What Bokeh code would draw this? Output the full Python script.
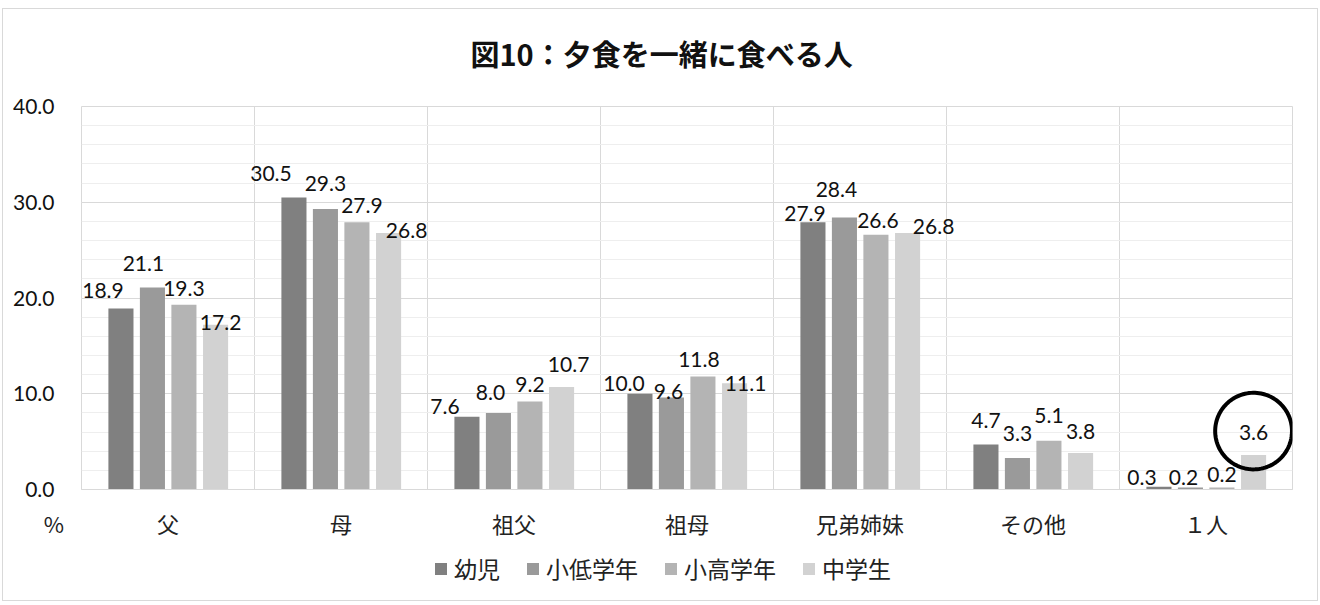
import numpy as np
from bokeh.plotting import figure
from bokeh.layouts import column
from bokeh.models import (Range1d, FixedTicker, SingleIntervalTicker, NumeralTickFormatter,
                          Legend, LegendItem, PolyAnnotation, ColumnDataSource)
from bokeh.core.properties import value
from bokeh.embed import file_html
from bokeh.resources import INLINE

# ---------------- data ----------------
title_text = "図10：夕食を一緒に食べる人"
categories = ["父", "母", "祖父", "祖母", "兄弟姉妹", "その他", "１人"]
series_names = ["幼児", "小低学年", "小高学年", "中学生"]
youji = [18.9, 30.5, 7.6, 10.0, 27.9, 4.7, 0.3]
shou_tei = [21.1, 29.3, 8.0, 9.6, 28.4, 3.3, 0.2]
shou_kou = [19.3, 27.9, 9.2, 11.8, 26.6, 5.1, 0.2]
chuugaku = [17.2, 26.8, 10.7, 11.1, 26.8, 3.8, 3.6]
y_ticks = [0, 10, 20, 30, 40]
unit_label = "%"
highlight = ("１人", "中学生")

series_values = [youji, shou_tei, shou_kou, chuugaku]

# ---------------- style ----------------
colors = ["#808080", "#9a9a9a", "#b4b4b4", "#d2d2d2"]
bar_offsets = [-0.272, -0.090, 0.092, 0.275]
bar_width = 0.145
# pixel nudges (dx, dy) of each data label, per series then category
label_nudges = [
    [(-18, -18), (-23, -24), (-22, -10), (-16, -10), (-8, -9), (0, -24), (-17, -9)],
    [(-9, -24), (0, -25), (-8, -20), (-3, -6), (-8, -28), (0, -24), (-7, -10)],
    [(0, -16), (5, -17), (0, -17), (-4, -17), (2, -14), (0, -25), (0, -13)],
    [(5, -2), (18, -2), (7, -23), (11, 0), (26, -6), (0, -22), (0, -23)],
]
num_font = value("Lato")
jp_font = "Noto Sans CJK JP"
grid_color = "#d9d9d9"
line = "linear-gradient(#d9d9d9,#d9d9d9)"
pad = "\u3000\u3000\u2002"  # spaces: push the unit label left of the frame edge

n = len(categories)
p = figure(width=1320, height=545, output_backend="svg", toolbar_location=None,
           x_range=Range1d(0, n), y_range=Range1d(y_ticks[0], y_ticks[-1]),
           min_border_left=81, min_border_right=28, min_border_top=105, min_border_bottom=56)
p.background_fill_color = "white"
p.border_fill_color = None
p.outline_line_color = grid_color

for k, (name, vals) in enumerate(zip(series_names, series_values)):
    xs = [i + 0.5 + bar_offsets[k] for i in range(n)]
    src = ColumnDataSource(dict(
        x=xs, top=vals, text=[f"{v:.1f}" for v in vals],
        dx=[d[0] for d in label_nudges[k]], dy=[d[1] for d in label_nudges[k]]))
    p.vbar(x="x", top="top", width=bar_width, bottom=0, source=src,
           fill_color=colors[k], line_color=None)
    p.text(x="x", y="top", text="text", x_offset="dx", y_offset="dy", source=src,
           text_align="center", text_baseline="middle", text_font=num_font,
           text_font_size="21px", text_color="#111111")

# x axis: category labels, plus the unit label at the frame's left edge
p.xaxis.ticker = FixedTicker(ticks=[0] + [i + 0.5 for i in range(n)])
overrides = {i + 0.5: c for i, c in enumerate(categories)}
overrides[0] = unit_label + pad
p.xaxis.major_label_overrides = overrides
p.xaxis.major_label_text_font = jp_font
p.xaxis.major_label_text_font_size = "22px"
p.xaxis.major_label_text_color = "#222222"
p.xaxis.major_label_standoff = 17
p.xaxis.major_tick_line_color = None
p.xaxis.major_tick_out = 0
p.xaxis.major_tick_in = 0
p.xaxis.minor_tick_line_color = None
p.xaxis.axis_line_color = grid_color

p.yaxis.ticker = SingleIntervalTicker(interval=10, num_minor_ticks=5)
p.yaxis.formatter = NumeralTickFormatter(format="0.0")
p.yaxis.major_label_text_font = "Lato"
p.yaxis.major_label_text_font_size = "21px"
p.yaxis.major_label_text_color = "#111111"
p.yaxis.major_label_standoff = 23
p.yaxis.major_tick_line_color = None
p.yaxis.major_tick_out = 0
p.yaxis.major_tick_in = 0
p.yaxis.minor_tick_line_color = None
p.yaxis.axis_line_color = None

p.xgrid.ticker = FixedTicker(ticks=list(range(n + 1)))
p.xgrid.grid_line_color = grid_color
p.ygrid.ticker = SingleIntervalTicker(interval=10, num_minor_ticks=5)
p.ygrid.grid_line_color = grid_color
p.ygrid.minor_grid_line_color = "#eeeeee"

# title (above)
p.title.text = title_text
p.title.align = "left"
p.title.offset = 389
p.title.vertical_align = "top"
p.title.standoff = 62
p.title.text_font = jp_font
p.title.text_font_size = "29px"
p.title.text_font_style = "bold"
p.title.text_color = "#111111"

# highlight ellipse around one value
ci = categories.index(highlight[0])
si = series_names.index(highlight[1])
cx = ci + 0.5 + bar_offsets[si]
cy = series_values[si][ci] + 2.5
t = np.linspace(0, 2 * np.pi, 120)
p.add_layout(PolyAnnotation(xs=list(cx + 0.222 * np.cos(t)), ys=list(cy + 4.0 * np.sin(t)),
                            fill_color=None, line_color="black", line_alpha=1.0, line_width=4))

# legend strip below the chart (its frame is aligned with the chart's frame)
lg = figure(width=1320, height=60, output_backend="svg", toolbar_location=None,
            x_range=Range1d(0, 1), y_range=Range1d(0, 1), x_axis_type=None, y_axis_type=None,
            min_border=0, min_border_left=0, min_border_right=0, min_border_top=0,
            min_border_bottom=0)
lg.background_fill_color = None
lg.border_fill_color = None
lg.outline_line_color = None
lg.grid.visible = False
legend_items = []
for k, name in enumerate(series_names):
    # swatch-only renderer: its single point lies far outside the strip's visible range
    r = lg.vbar(x=[-10], top=[-10], bottom=[-20], width=0.1, fill_color=colors[k], line_color=None)
    legend_items.append(LegendItem(label=name, renderers=[r]))
legend = Legend(items=legend_items, orientation="horizontal", location=(352, 20),
                label_text_font=jp_font, label_text_font_size="23px", label_text_color="#222222",
                glyph_width=15, glyph_height=15, label_standoff=6, spacing=25,
                padding=0, margin=0, background_fill_alpha=0, border_line_color=None)
lg.add_layout(legend, "center")

layout = column(p, lg, spacing=0)
# outer chart border drawn behind the transparent canvas areas
layout.styles = {
    "background-color": "white",
    "background-image": ", ".join([line] * 4),
    "background-repeat": "no-repeat",
    "background-size": "1316px 1px, 1316px 1px, 1px 593px, 1px 593px",
    "background-position": "2px 8px, 2px 600px, 2px 8px, 1317px 8px",
}

open("out.html", "w").write(file_html(layout, INLINE))
